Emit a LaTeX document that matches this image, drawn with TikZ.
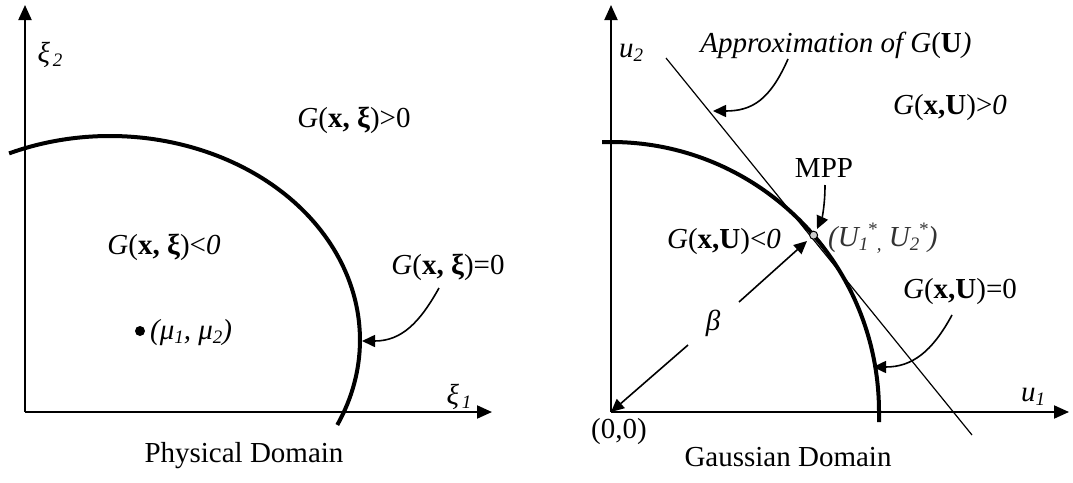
\documentclass[tikz,border=0pt]{standalone}
\usepackage{fontspec}
\setmainfont{Liberation Serif}
\usetikzlibrary{arrows.meta}
\newcommand{\lo}[1]{\raisebox{-4pt}{\fontsize{19}{19}\selectfont #1}}
\newcommand{\hi}[1]{\raisebox{11pt}{\fontsize{19}{19}\selectfont #1}}
\begin{document}
\begin{tikzpicture}[x=1pt,y=1pt,
  every node/.style={inner sep=0pt, font=\fontsize{29}{34}\selectfont},
  axis/.style={line width=2pt, -{Triangle[length=15pt,width=13pt]}},
  bound/.style={line width=4pt},
  callout/.style={line width=1.6pt, -{Triangle[length=13pt,width=12pt]}},
  tangent/.style={line width=1.2pt}]
\useasboundingbox (0,0) rectangle (1073,-482);

% ---------------- left panel ----------------
\coordinate (LO) at (25,-412);
\coordinate (LY) at (25,-5);
\coordinate (LX) at (492,-412);
\draw[axis] (LO) -- (LY);
\draw[axis] (LO) -- (LX);
\draw[bound] (9.1,-153.4) arc[start angle=113.8,end angle=-24.6,x radius=250pt,y radius=204pt];

\node (xi2) at (50,-55) {\textit{ξ\kern3pt\lo{2}}};
\node (xi1) at (459,-397) {\textit{ξ\kern3pt\lo{1}}};
\node (Lpos) at (354,-120) {\textit{G}(\textbf{x, ξ})>0};
\node (Lneg) at (164,-247) {\textit{G}(\textbf{x, ξ})<\textit{0}};
\node (Lzero) at (448,-267) {\textit{G}(\textbf{x, ξ})=0};
\fill (140,-331) circle[radius=5pt];
\node[anchor=west] (mu) at (150,-333) {\textit{(μ\lo{1}, μ\lo{2})}};
\node (Lcap) at (244,-456) {Physical Domain};

\coordinate (LzS) at (439,-288);
\coordinate (LzT) at (362,-341);
\draw[callout] (LzS) .. controls (420,-322) and (402,-341) .. (LzT);

% ---------------- right panel ----------------
\coordinate (RO) at (611,-412);
\coordinate (RY) at (611,-5);
\coordinate (RX) at (1069,-412);
\draw[axis] (RO) -- (RY);
\draw[axis] (RO) -- (RX);
\draw[bound] (602,-142) -- (611,-142) arc[start angle=90,end angle=0,x radius=268pt,y radius=270pt] -- ++(0,-10);

\coordinate (TA) at (666,-58);
\coordinate (TB) at (972,-435);
\draw[tangent] (TA) -- (TB);

\node (u2) at (631,-53) {\textit{u\lo{2}}};
\node (u1) at (1033,-397) {\textit{u\lo{1}}};
\node (zero) at (619,-432) {(0,0)};
\node (Rcap) at (788,-457) {Gaussian Domain};
\node (approx) at (836,-45) {\textit{Approximation of G}(\textbf{U}\textit{)}};
\node (Rpos) at (950,-108) {\textit{G}(\textbf{x,U})>\textit{0}};
\node (Rneg) at (724,-242) {\textit{G}(\textbf{x,U})<\textit{0}};
\node (Rzero) at (960,-292) {\textit{G}(\textbf{x,U})=0};
\node (mpp) at (824,-168) {MPP};
\node[anchor=west, text=black!80] (ustar) at (828,-238) {\textit{(U\lo{1}\kern-1pt\hi{*}\lo{,} U\lo{2}\kern-1pt\hi{*})}};
\node (beta) at (713,-323) {\textit{β}};

\coordinate (MPPpt) at (813.6,-235.2);

\coordinate (apS) at (788,-59);
\coordinate (apT) at (713,-111);
\draw[callout] (apS) .. controls (770,-100) and (752,-111) .. (apT);

\coordinate (mpS) at (825,-185);
\coordinate (mpT) at (817,-229);
\draw[callout] (mpS) .. controls (825,-205) and (822,-218) .. (mpT);

\coordinate (rzS) at (952,-315);
\coordinate (rzT) at (873,-367);
\draw[callout] (rzS) .. controls (932,-352) and (912,-367) .. (rzT);

\coordinate (b1S) at (688,-345);
\coordinate (b2S) at (739,-302);
\draw[callout] (b1S) -- (RO);
\draw[callout] (b2S) -- (807,-241);

\draw[line width=1pt, fill=black!20] (MPPpt) circle[radius=4pt];
\end{tikzpicture}
\end{document}
